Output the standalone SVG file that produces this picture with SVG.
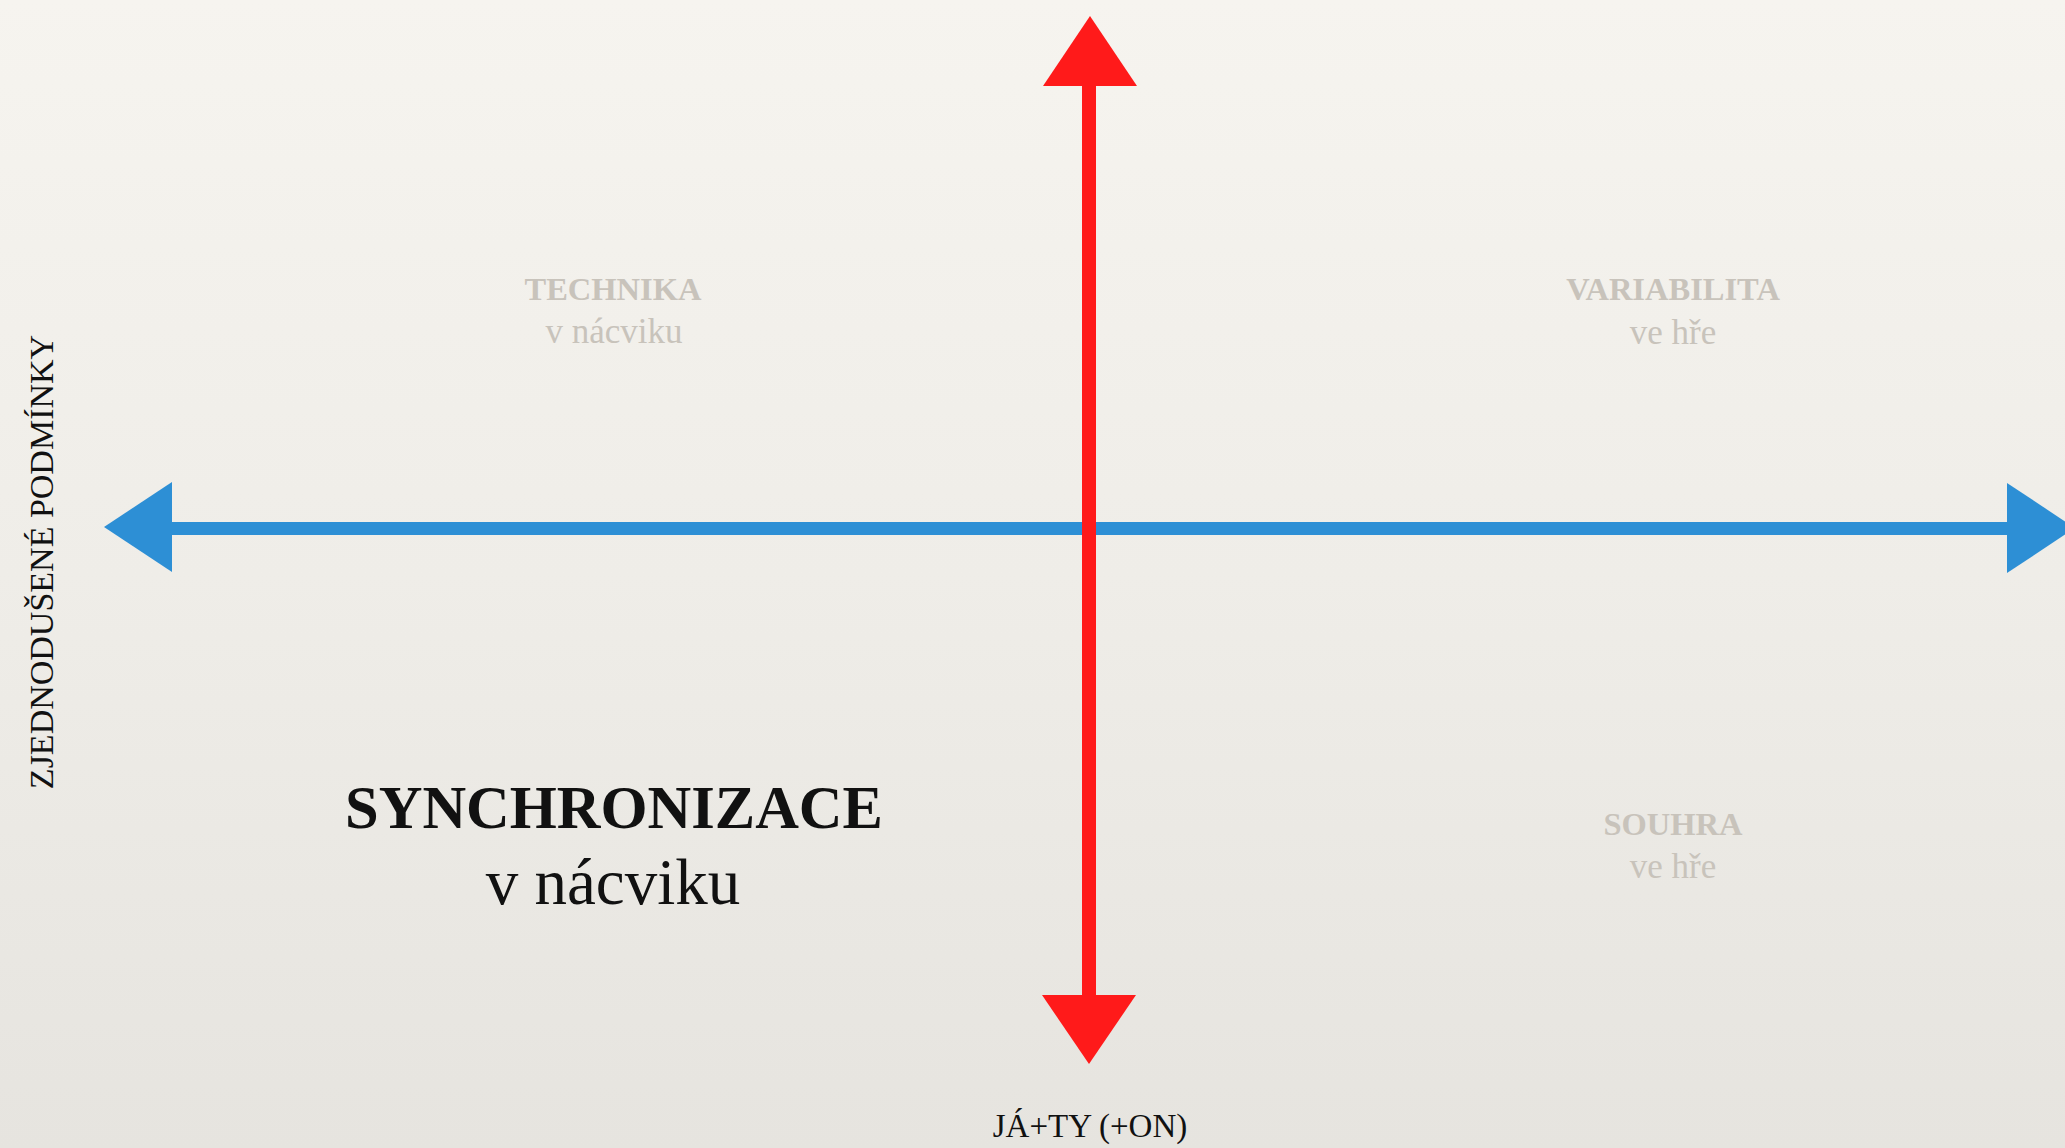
<svg xmlns="http://www.w3.org/2000/svg" width="2065" height="1148" viewBox="0 0 2065 1148">
  <defs>
    <linearGradient id="paper" x1="0" y1="0" x2="0" y2="1">
      <stop offset="0" stop-color="#f6f4ef"/>
      <stop offset="0.5" stop-color="#efede8"/>
      <stop offset="1" stop-color="#e6e4df"/>
    </linearGradient>
    <style>
      .serif { font-family: "Liberation Serif", "Times New Roman", serif; }
      .faint { fill: #c8c3bb; }
      .dark { fill: #111111; }
      .red { fill: #ff1a1a; }
      .blue { fill: #2d8fd5; }
    </style>
  </defs>
  <rect x="0" y="0" width="2065" height="1148" fill="url(#paper)"/>

  <g id="connectors">
    <g id="blue-axis">
      <rect class="blue" x="168" y="522" width="1845" height="13"/>
      <polygon class="blue" points="104,527 172,482 172,572"/>
      <polygon class="blue" points="2075,528 2007,483 2007,573"/>
    </g>
    <g id="red-axis">
      <rect class="red" x="1082" y="80" width="14" height="920"/>
      <polygon class="red" points="1090,16 1043,86 1137,86"/>
      <polygon class="red" points="1089,1064 1042,995 1136,995"/>
    </g>
  </g>

  <g id="node-technika" class="serif faint" text-anchor="middle">
    <text x="613" y="300" font-size="32.5" font-weight="bold">TECHNIKA</text>
    <text x="614" y="343" font-size="35">v nácviku</text>
  </g>

  <g id="node-variabilita" class="serif faint" text-anchor="middle">
    <text x="1673" y="300" font-size="32.5" font-weight="bold">VARIABILITA</text>
    <text x="1673" y="344" font-size="35">ve hře</text>
  </g>

  <g id="node-souhra" class="serif faint" text-anchor="middle">
    <text x="1673" y="835" font-size="32.5" font-weight="bold">SOUHRA</text>
    <text x="1673" y="878" font-size="35">ve hře</text>
  </g>

  <g id="node-synchronizace" class="serif dark" text-anchor="middle">
    <text x="614" y="828" font-size="60.5" font-weight="bold">SYNCHRONIZACE</text>
    <text x="613" y="904" font-size="65">v nácviku</text>
  </g>

  <g id="label-y" class="serif dark">
    <text x="0" y="0" font-size="34" text-anchor="middle" transform="translate(53,562) rotate(-90)">ZJEDNODUŠENÉ PODMÍNKY</text>
  </g>

  <g id="label-x" class="serif dark">
    <text x="1090" y="1137" font-size="33" text-anchor="middle">JÁ+TY (+ON)</text>
  </g>
</svg>
